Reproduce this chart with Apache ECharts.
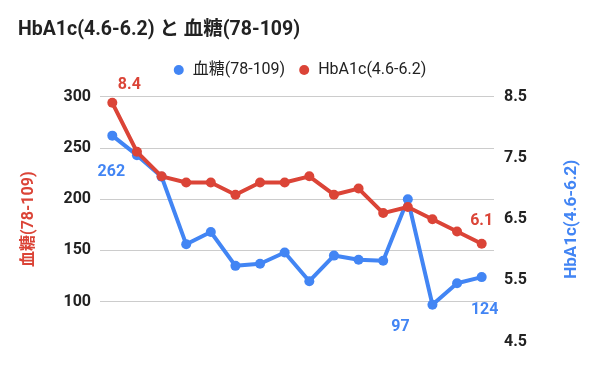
<!DOCTYPE html>
<html><head><meta charset="utf-8">
<script src="https://cdn.jsdelivr.net/npm/echarts@6/dist/echarts.min.js"></script>
<style>html,body{margin:0;padding:0;background:#fff}#c{width:600px;height:371px}</style>
</head><body><div id="c"></div>
<script>
const titleText = 'HbA1c(4.6-6.2) と 血糖(78-109)';
const categories = ['1','2','3','4','5','6','7','8','9','10','11','12','13','14','15','16'];
const glucoseName = '血糖(78-109)';
const hba1cName = 'HbA1c(4.6-6.2)';
const glucose = [262,243,222,156,168,135,137,148,120,145,141,140,200,97,118,124];
const hba1c = [8.4,7.6,7.2,7.1,7.1,6.9,7.1,7.1,7.2,6.9,7.0,6.6,6.7,6.5,6.3,6.1];
const leftTicks = [100,150,200,250,300];
const rightTicks = [4.5,5.5,6.5,7.5,8.5];

const BLUE = '#4285F4', RED = '#DB4437';
const FONT = 'Roboto, "Noto Sans CJK JP", sans-serif';

// label placement (style only) for selected points
const blueLabels = {0:[-1,36], 13:[-32,22], 15:[3,33]};
const redLabels = {0:[17,-18], 15:[0,-23]};
function build(vals, labels, color){
  return vals.map((v,i)=>{
    if(labels[i]){
      return {value:v, label:{show:true, position:'inside', offset:labels[i], color:color,
        fontFamily:FONT, fontWeight:'bold', fontSize:16, align:'center', verticalAlign:'middle'}};
    }
    return v;
  });
}

const chart = echarts.init(document.getElementById('c'), null, {renderer:'canvas'});
chart.setOption({
  animation:false,
  backgroundColor:'#fff',
  textStyle:{fontFamily:FONT},
  title:{text:titleText, left:18, top:20, padding:0,
    textStyle:{fontFamily:FONT, fontSize:19.5, fontWeight:'bold', color:'#222'}},
  legend:{top:57, left:'center', itemWidth:18, itemHeight:10, itemGap:14, icon:'circle',
    data:[glucoseName, hba1cName],
    textStyle:{fontFamily:FONT, fontSize:16, color:'#222'}},
  grid:{left:100, right:106, top:96.7, height:245},
  xAxis:{type:'category', data:categories, boundaryGap:true,
    axisLine:{show:false}, axisTick:{show:false}, axisLabel:{show:false}, splitLine:{show:false}},
  yAxis:[
    {type:'value', min:61, max:300, position:'left',
      name:glucoseName, nameLocation:'middle', nameRotate:90, nameGap:63,
      nameTextStyle:{color:RED, fontFamily:FONT, fontSize:16, fontWeight:'bold'},
      axisLine:{show:false},
      axisTick:{show:false, customValues:leftTicks},
      axisLabel:{customValues:leftTicks, margin:9, color:'#222', fontFamily:FONT, fontSize:16, fontWeight:'bold'},
      splitLine:{show:true, lineStyle:{color:'#cccccc', width:1}}},
    {type:'value', min:4.5, max:8.5, position:'right',
      name:hba1cName, nameLocation:'middle', nameRotate:90, nameGap:69,
      nameTextStyle:{color:BLUE, fontFamily:FONT, fontSize:17, fontWeight:'bold'},
      axisLine:{show:false},
      axisTick:{show:false, customValues:rightTicks},
      axisLabel:{customValues:rightTicks, margin:10, color:'#222', fontFamily:FONT, fontSize:16, fontWeight:'bold'},
      splitLine:{show:false}}
  ],
  series:[
    {name:glucoseName, type:'line', yAxisIndex:0, data:build(glucose, blueLabels, BLUE),
      color:BLUE, symbol:'circle', symbolSize:10, lineStyle:{width:4, color:BLUE},
      itemStyle:{color:BLUE}, z:2},
    {name:hba1cName, type:'line', yAxisIndex:1, data:build(hba1c, redLabels, RED),
      color:RED, symbol:'circle', symbolSize:10, lineStyle:{width:4, color:RED},
      itemStyle:{color:RED}, z:3}
  ]
});
</script></body></html>
